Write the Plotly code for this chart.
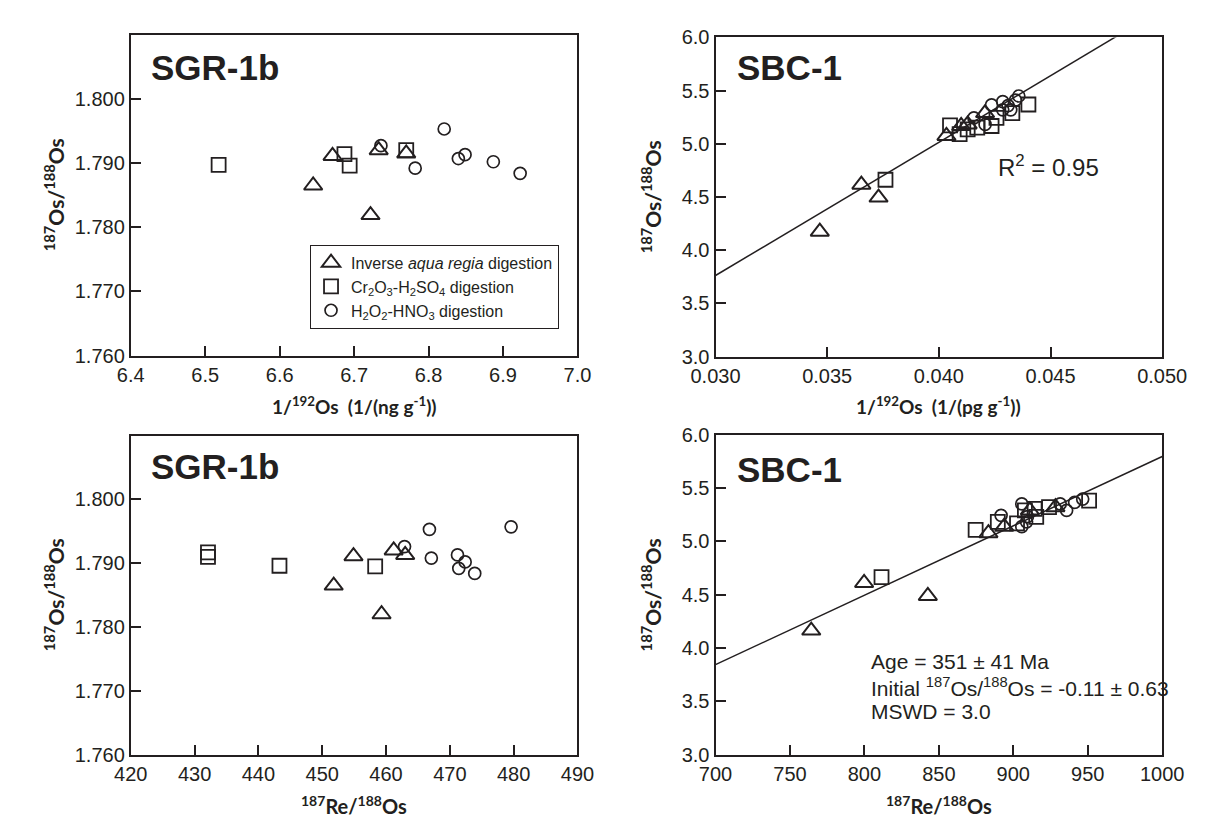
import plotly.graph_objects as go

# ---------------- data ----------------
# SGR-1b, top panel: 1/192Os (1/(ng g-1)) vs 187Os/188Os
sgr_tri_inv = [6.645, 6.671, 6.733, 6.722, 6.770]
sgr_tri_os = [1.7865, 1.7911, 1.7920, 1.7819, 1.7915]
sgr_sq_inv = [6.518, 6.687, 6.694, 6.770]
sgr_sq_os = [1.7897, 1.7914, 1.7896, 1.7920]
sgr_ci_inv = [6.736, 6.782, 6.821, 6.840, 6.849, 6.887, 6.923]
sgr_ci_os = [1.7927, 1.7892, 1.7953, 1.7907, 1.7913, 1.7902, 1.7884]

# SGR-1b, bottom panel: 187Re/188Os vs 187Os/188Os
sgr_tri_re = [451.8, 454.9, 459.3, 461.2, 463.0]
sgr_tri_os2 = [1.7865, 1.7911, 1.7820, 1.7920, 1.7913]
sgr_sq_re = [432.1, 432.1, 443.3, 458.3]
sgr_sq_os2 = [1.7917, 1.7910, 1.7896, 1.7895]
sgr_ci_re = [462.9, 466.8, 467.1, 471.2, 471.4, 472.4, 473.9, 479.6]
sgr_ci_os2 = [1.7926, 1.7953, 1.7908, 1.7913, 1.7892, 1.7902, 1.7884, 1.7957]

# SBC-1, top panel: 1/192Os (1/(pg g-1)) vs 187Os/188Os
sbc_tri_inv = [0.03467, 0.03653, 0.03730, 0.04034, 0.04100, 0.04129, 0.04207]
sbc_tri_os = [4.175, 4.617, 4.495, 5.075, 5.168, 5.183, 5.290]
sbc_sq_inv = [0.03761, 0.04050, 0.04093, 0.04129, 0.04172, 0.04236, 0.04258, 0.04329, 0.04401]
sbc_sq_os = [4.663, 5.174, 5.092, 5.137, 5.152, 5.168, 5.244, 5.290, 5.370]
sbc_ci_inv = [0.04157, 0.04207, 0.04236, 0.04286, 0.04286, 0.04322, 0.04343, 0.04358, 0.04310]
sbc_ci_os = [5.244, 5.183, 5.366, 5.397, 5.320, 5.320, 5.412, 5.450, 5.360]

# SBC-1, bottom panel: 187Re/188Os vs 187Os/188Os
sbc_tri_re = [764.3, 799.8, 842.6, 883.3, 893.9, 911.1, 928.3]
sbc_tri_os2 = [4.163, 4.609, 4.488, 5.076, 5.137, 5.289, 5.319]
sbc_sq_re = [811.5, 874.7, 889.6, 902.5, 907.8, 915.4, 914.3, 924.0, 950.9]
sbc_sq_os2 = [4.664, 5.106, 5.182, 5.167, 5.289, 5.228, 5.304, 5.319, 5.380]
sbc_ci_re = [891.8, 905.7, 908.9, 909.5, 905.7, 931.5, 935.8, 941.2, 946.6]
sbc_ci_os2 = [5.243, 5.350, 5.182, 5.230, 5.137, 5.350, 5.289, 5.365, 5.395]

# regression lines (slope, intercept) as drawn
fit_inv_slope, fit_inv_icpt = 125.2, 0.007
fit_re_slope, fit_re_icpt = 0.0065, -0.706

legend_names = ["Inverse <i>aqua regia</i> digestion",
                "Cr<sub>2</sub>O<sub>3</sub>-H<sub>2</sub>SO<sub>4</sub> digestion",
                "H<sub>2</sub>O<sub>2</sub>-HNO<sub>3</sub> digestion"]

sgr_ticks_y = [1.760, 1.770, 1.780, 1.790, 1.800]
sgr_ticks_inv = [6.4, 6.5, 6.6, 6.7, 6.8, 6.9, 7.0]
sgr_ticks_re = [420, 430, 440, 450, 460, 470, 480, 490]
sbc_ticks_y = [3.0, 3.5, 4.0, 4.5, 5.0, 5.5, 6.0]
sbc_ticks_inv = [0.030, 0.035, 0.040, 0.045, 0.050]
sbc_ticks_re = [700, 750, 800, 850, 900, 950, 1000]

# ---------------- figure ----------------
W, H = 1207, 819
INK = "#231f20"
TICKFONT = "Liberation Sans, Arial, sans-serif"
TITLEFONT = "Lato, sans-serif"


def px_x(p):
    return p / W


def px_y(p):
    return 1 - p / H


fig = go.Figure()

symbols = ["triangle-up-open", "square-open", "circle-open"]
sizes = [16, 14, 12]
widths = [2.0, 1.8, 1.7]


def add_group(xs_list, ys_list, xa, ya, show):
    for i, (xs, ys) in enumerate(zip(xs_list, ys_list)):
        fig.add_trace(go.Scatter(
            x=xs, y=ys, mode="markers", xaxis=xa, yaxis=ya,
            name=legend_names[i], showlegend=show,
            marker=dict(symbol=symbols[i], size=sizes[i], color=INK,
                        line=dict(color=INK, width=widths[i])),
        ))


# fit lines (drawn first, under markers)
line_x_inv = [sbc_ticks_inv[0], sbc_ticks_inv[-1]]
fig.add_trace(go.Scatter(x=line_x_inv, y=[fit_inv_slope * v + fit_inv_icpt for v in line_x_inv],
                         mode="lines", xaxis="x2", yaxis="y2", showlegend=False,
                         line=dict(color=INK, width=1.5)))
line_x_re = [sbc_ticks_re[0], sbc_ticks_re[-1]]
fig.add_trace(go.Scatter(x=line_x_re, y=[fit_re_slope * v + fit_re_icpt for v in line_x_re],
                         mode="lines", xaxis="x4", yaxis="y4", showlegend=False,
                         line=dict(color=INK, width=1.5)))

add_group([sgr_tri_inv, sgr_sq_inv, sgr_ci_inv], [sgr_tri_os, sgr_sq_os, sgr_ci_os], "x", "y", True)
add_group([sbc_tri_inv, sbc_sq_inv, sbc_ci_inv], [sbc_tri_os, sbc_sq_os, sbc_ci_os], "x2", "y2", False)
add_group([sgr_tri_re, sgr_sq_re, sgr_ci_re], [sgr_tri_os2, sgr_sq_os2, sgr_ci_os2], "x3", "y3", False)
add_group([sbc_tri_re, sbc_sq_re, sbc_ci_re], [sbc_tri_os2, sbc_sq_os2, sbc_ci_os2], "x4", "y4", False)


def axis(domain, rng, tickvals, fmt, anchor):
    return dict(domain=domain, range=rng, tickvals=tickvals, tickformat=fmt,
                anchor=anchor, showgrid=False, zeroline=False,
                showline=True, linecolor=INK, linewidth=2, mirror=True,
                ticks="inside", ticklen=10, tickwidth=1.5, tickcolor=INK,
                tickfont=dict(family=TICKFONT, size=20, color=INK))


L_dom = [px_x(102), px_x(568)]
R_dom = [px_x(712), px_x(1178)]
T_dom_L = [px_y(346), px_y(16)]
T_dom_R = [px_y(347), px_y(19)]
B_dom_L = [px_y(756), px_y(428)]
B_dom_R = [px_y(756), px_y(427)]

fig.update_layout(
    width=W, height=H, margin=dict(l=0, r=0, t=0, b=0),
    paper_bgcolor="white", plot_bgcolor="white",
    xaxis=axis(L_dom, [6.4, 7.0], sgr_ticks_inv, ".1f", "y"),
    yaxis=axis(T_dom_L, [1.760, 1.810], sgr_ticks_y, ".3f", "x"),
    xaxis2=axis(R_dom, [0.030, 0.050], sbc_ticks_inv, ".3f", "y2"),
    yaxis2=axis(T_dom_R, [3.0, 6.0], sbc_ticks_y, ".1f", "x2"),
    xaxis3=axis(L_dom, [420, 490], sgr_ticks_re, "d", "y3"),
    yaxis3=axis(B_dom_L, [1.760, 1.810], sgr_ticks_y, ".3f", "x3"),
    xaxis4=axis(R_dom, [700, 1000], sbc_ticks_re, "d", "y4"),
    yaxis4=axis(B_dom_R, [3.0, 6.0], sbc_ticks_y, ".1f", "x4"),
    legend=dict(x=px_x(289), y=px_y(232), xanchor="left", yanchor="top",
                bordercolor=INK, borderwidth=1, bgcolor="white",
                font=dict(family=TICKFONT, size=16, color=INK),
                tracegroupgap=0, itemsizing="trace"),
    showlegend=True,
)

ann = []


def text(x, y, s, size, family=TICKFONT, bold=False, xanchor="left", angle=0, yanchor="middle"):
    ann.append(dict(x=px_x(x), y=px_y(y), xref="paper", yref="paper", text=s,
                    showarrow=False, xanchor=xanchor, yanchor=yanchor, textangle=angle,
                    font=dict(family=family, size=size, color=INK,
                              weight="bold" if bold else "normal")))


# panel labels
text(121, 50, "SGR-1b", 35, bold=True)
text(121, 460, "SGR-1b", 35, bold=True)
text(732, 50, "SBC-1", 35, bold=True)
text(732, 463, "SBC-1", 35, bold=True)

# axis titles
xt_inv_ng = "1/<sup>192</sup>Os  (1/(ng g<sup>-1</sup>))"
xt_inv_pg = "1/<sup>192</sup>Os  (1/(pg g<sup>-1</sup>))"
xt_re = "<sup>187</sup>Re/<sup>188</sup>Os"
yt = "<sup>187</sup>Os/<sup>188</sup>Os"
text((102 + 568) / 2, 397, xt_inv_ng, 19, TITLEFONT, True, "center")
text((712 + 1178) / 2, 397, xt_inv_pg, 19, TITLEFONT, True, "center")
text((102 + 568) / 2, 808, xt_re, 20, TITLEFONT, True, "center")
text((712 + 1178) / 2, 808, xt_re, 20, TITLEFONT, True, "center")
text(22, 181, yt, 21, TITLEFONT, True, "center", -90)
text(645, 183, yt, 21, TITLEFONT, True, "center", -90)
text(22, 592, yt, 21, TITLEFONT, True, "center", -90)
text(645, 592, yt, 21, TITLEFONT, True, "center", -90)

# statistics
text(1005, 151, "R<sup>2</sup> = 0.95", 24)
text(872, 660, "Age = 351 ± 41 Ma", 21)
text(872, 686, "Initial <sup>187</sup>Os/<sup>188</sup>Os = -0.11 ± 0.63", 21)
text(872, 712, "MSWD = 3.0", 21)

fig.update_layout(annotations=ann)

fig.write_html("out.html")
